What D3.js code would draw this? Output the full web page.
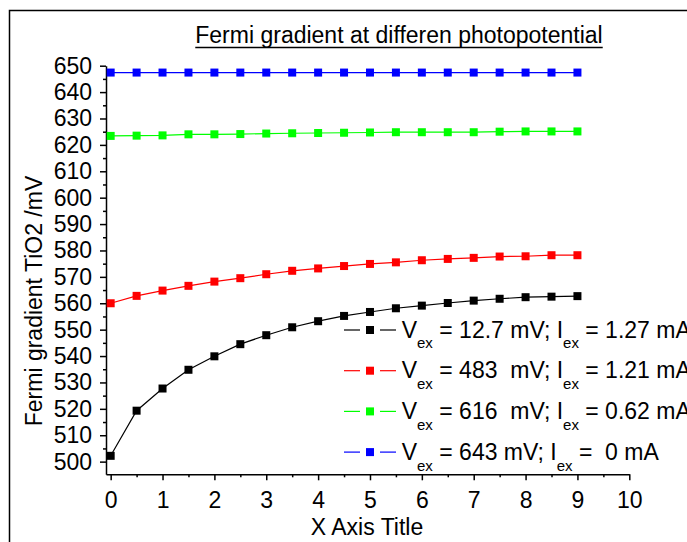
<!DOCTYPE html>
<html>
<head>
<meta charset="utf-8">
<script src="https://cdn.jsdelivr.net/npm/d3@7"></script>
<style>
  body { margin: 0; background: #fff; }
  svg { display: block; font-family: "Liberation Sans", Arial, sans-serif; }
  text { white-space: pre; }
</style>
</head>
<body>
<div id="chart"></div>
<script>
const WIDTH = 687;
const HEIGHT = 542;

// x positions (same for every series)
const xValues = [0, 0.5, 1, 1.5, 2, 2.5, 3, 3.5, 4, 4.5, 5, 5.5, 6, 6.5, 7, 7.5, 8, 8.5, 9];

const blackValues = [502.2, 519.3, 527.7, 534.8, 539.9, 544.5, 547.9, 550.9, 553.2, 555.2,
  556.7, 558.1, 559.1, 560.1, 561.0, 561.7, 562.3, 562.5, 562.7];
const redValues = [560.0, 562.8, 564.8, 566.6, 568.2, 569.5, 571.0, 572.3, 573.2, 574.1,
  574.9, 575.5, 576.3, 576.8, 577.2, 577.7, 577.8, 578.2, 578.2];
const greenValues = [623.4, 623.5, 623.6, 624.0, 624.0, 624.1, 624.3, 624.4, 624.5, 624.6,
  624.7, 624.8, 624.8, 624.8, 624.8, 625.0, 625.1, 625.1, 625.1];
const blueValues = [647.4, 647.4, 647.4, 647.4, 647.4, 647.4, 647.4, 647.4, 647.4, 647.4,
  647.4, 647.4, 647.4, 647.4, 647.4, 647.4, 647.4, 647.4, 647.4];

const xTicks = [0, 1, 2, 3, 4, 5, 6, 7, 8, 9, 10];
const xMinorTicks = [0.5, 1.5, 2.5, 3.5, 4.5, 5.5, 6.5, 7.5, 8.5, 9.5];
const yTicks = [500, 510, 520, 530, 540, 550, 560, 570, 580, 590, 600, 610, 620, 630, 640, 650];
const yMinorTicks = [505, 515, 525, 535, 545, 555, 565, 575, 585, 595, 605, 615, 625, 635, 645];

const series = [
  { key: "black", color: "#000000", values: blackValues, label: ["V", "ex", " = 12.7 mV; I", "ex", " = 1.27 mA"] },
  { key: "red", color: "#ff0000", values: redValues, label: ["V", "ex", " = 483  mV; I", "ex", " = 1.21 mA"] },
  { key: "green", color: "#00ff00", values: greenValues, label: ["V", "ex", " = 616  mV; I", "ex", " = 0.62 mA"] },
  { key: "blue", color: "#0000ff", values: blueValues, label: ["V", "ex", " = 643 mV; I", "ex", " =  0 mA"] },
];

const svg = d3.select("#chart").append("svg").attr("width", WIDTH).attr("height", HEIGHT);

svg.append("rect")
  .attr("x", 9.5).attr("y", 10.5)
  .attr("width", 800).attr("height", 800)
  .attr("fill", "#fff").attr("stroke", "#000").attr("stroke-width", 1.5);

const x = d3.scaleLinear().domain([-0.09, 10]).range([106, 629.3]);
const y = d3.scaleLinear().domain([495.2, 650]).range([474.3, 65.7]);

// title
const title = svg.append("text")
  .attr("x", 399).attr("y", 43.3)
  .attr("text-anchor", "middle")
  .style("font-size", "23px")
  .text("Fermi gradient at differen photopotential");
const tw = title.node().getComputedTextLength();
svg.append("line")
  .attr("x1", 399 - tw / 2).attr("x2", 399 + tw / 2)
  .attr("y1", 47.5).attr("y2", 47.5)
  .attr("stroke", "#000").attr("stroke-width", 1.5);

// axes
const xAxis = svg.append("g").attr("transform", `translate(0,${y.range()[0]})`)
  .call(d3.axisBottom(x).tickValues(xTicks).tickSize(6).tickSizeOuter(0).tickPadding(11));
svg.append("g").attr("transform", `translate(0,${y.range()[0]})`)
  .call(d3.axisBottom(x).tickValues(xMinorTicks).tickSize(3).tickSizeOuter(0).tickFormat(""))
  .select(".domain").remove();

const yAxis = svg.append("g").attr("transform", `translate(${x.range()[0]},0)`)
  .call(d3.axisLeft(y).tickValues(yTicks).tickSize(6).tickSizeOuter(0).tickPadding(8));
svg.append("g").attr("transform", `translate(${x.range()[0]},0)`)
  .call(d3.axisLeft(y).tickValues(yMinorTicks).tickSize(3).tickSizeOuter(0).tickFormat(""))
  .select(".domain").remove();

svg.selectAll(".tick line, .domain").attr("stroke", "#000").attr("stroke-width", 1.5);
svg.selectAll(".tick text")
  .attr("fill", "#000")
  .style("font-size", "23px")
  .style("font-family", "'Liberation Sans', Arial, sans-serif");

// axis titles
svg.append("text")
  .attr("x", 367).attr("y", 535)
  .attr("text-anchor", "middle")
  .style("font-size", "23px")
  .text("X Axis Title");

svg.append("text")
  .attr("transform", "translate(41.5,301) rotate(-90)")
  .attr("text-anchor", "middle")
  .style("font-size", "23px")
  .text("Fermi gradient TiO2 /mV");

// lines + markers
const line = d3.line().x((d, i) => x(xValues[i])).y((d) => y(d));
const plot = svg.append("g");
series.forEach((s) => {
  plot.append("path")
    .attr("d", line(s.values))
    .attr("fill", "none")
    .attr("stroke", s.color)
    .attr("stroke-width", 1.2);
  plot.selectAll(`.m-${s.key}`)
    .data(s.values)
    .join("rect")
    .attr("class", `m-${s.key}`)
    .attr("x", (d, i) => x(xValues[i]) - 4)
    .attr("y", (d) => y(d) - 4)
    .attr("width", 8).attr("height", 8)
    .attr("fill", s.color);
});

// legend
const legend = svg.append("g");
series.forEach((s, i) => {
  const base = 337.7 + i * 40.7;
  const cy = base - 7.7;
  const g = legend.append("g");
  g.append("line").attr("x1", 344).attr("x2", 360).attr("y1", cy).attr("y2", cy)
    .attr("stroke", s.color).attr("stroke-width", 1.2);
  g.append("line").attr("x1", 380).attr("x2", 396).attr("y1", cy).attr("y2", cy)
    .attr("stroke", s.color).attr("stroke-width", 1.2);
  g.append("rect").attr("x", 366).attr("y", cy - 4).attr("width", 8).attr("height", 8)
    .attr("fill", s.color);
  const t = g.append("text").attr("x", 401.7).attr("y", base).style("font-size", "23px");
  s.label.forEach((part, j) => {
    const sub = j % 2 === 1;
    t.append("tspan")
      .attr("dy", sub ? 10.7 : (j === 0 ? 0 : -10.7))
      .style("font-size", sub ? "15px" : "23px")
      .text(part);
  });
});
</script>
</body>
</html>
